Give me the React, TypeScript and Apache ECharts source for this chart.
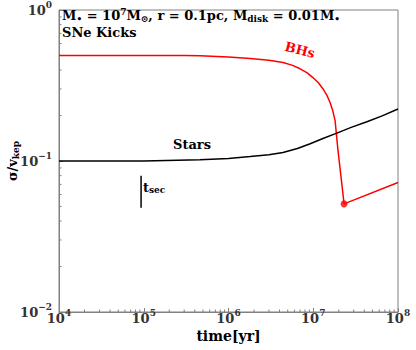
import React, { useEffect, useRef } from "react";
import * as echarts from "echarts";

// BHs velocity dispersion (sigma / v_kep) vs time [yr]
const bhTime = [1e4, 1e5, 3e5, 4.6e5, 1e6, 1.8e6, 3e6, 4.4e6, 5.7e6, 7.0e6, 8.5e6, 9.9e6, 1.15e7, 1.3e7, 1.45e7, 1.58e7, 1.7e7, 1.81e7, 1.96e7, 2.17e7, 2.31e7, 1e8];
const bhSigma = [0.5, 0.5, 0.499, 0.497, 0.489, 0.477, 0.465, 0.449, 0.43, 0.408, 0.383, 0.357, 0.33, 0.301, 0.272, 0.244, 0.215, 0.185, 0.117, 0.071, 0.052, 0.072];

// Stars
const starTime = [1e4, 1e5, 4.6e5, 1e6, 1.8e6, 3e6, 4.4e6, 6.5e6, 9.2e6, 1.3e7, 1.9e7, 2.8e7, 4.3e7, 6.5e7, 1e8];
const starSigma = [0.1, 0.1, 0.1018, 0.104, 0.107, 0.11, 0.114, 0.121, 0.13, 0.141, 0.153, 0.167, 0.182, 0.199, 0.221];

// kick marker
const kickTime = [2.31e7];
const kickSigma = [0.052];

// t_sec marker
const tsecTime = [9.3e4, 9.3e4];
const tsecSigma = [0.049, 0.08];

// axis limits and minor ticks
const xMin = 1e4;
const xMax = 1e8;
const yMin = 0.01;
const yMax = 1;
const xMinorTicks = [
  2e4, 3e4, 4e4, 5e4, 6e4, 7e4, 8e4, 9e4,
  2e5, 3e5, 4e5, 5e5, 6e5, 7e5, 8e5, 9e5,
  2e6, 3e6, 4e6, 5e6, 6e6, 7e6, 8e6, 9e6,
  2e7, 3e7, 4e7, 5e7, 6e7, 7e7, 8e7, 9e7,
];
const yMinorTicks = [0.02, 0.03, 0.04, 0.05, 0.06, 0.07, 0.08, 0.09, 0.2, 0.3, 0.4, 0.5, 0.6, 0.7, 0.8, 0.9];

const FONT = "DejaVu Serif";
const GRAY = "#808080";

const pow10Label = (v: number) => {
  const e = Math.round(Math.log10(v));
  const s = e < 0 ? "\u2212" + Math.abs(e) : String(e);
  return `{b|10}{s|${s}}`;
};

const tickRich = {
  b: { fontFamily: FONT, fontWeight: "bold", fontSize: 13, color: "#333" },
  s: { fontFamily: FONT, fontWeight: "bold", fontSize: 9, color: "#333", padding: [0, 0, 11, 0] },
};

export default function App() {
  const ref = useRef<HTMLDivElement>(null);
  useEffect(() => {
    if (!ref.current) return;
    const chart = echarts.init(ref.current, undefined, { renderer: "svg" });
    const zip = (a: number[], b: number[]) => a.map((v, i) => [v, b[i]]);
    chart.setOption({
      animation: false,
      grid: {
        left: 59, right: 18, top: 10, bottom: 38,
        containLabel: false, outerBoundsMode: "none",
        show: true, borderColor: GRAY, borderWidth: 1, backgroundColor: "transparent",
      },
      xAxis: {
        type: "log",
        logBase: 10,
        min: xMin,
        max: xMax,
        splitLine: { show: false },
        axisLine: { show: true, lineStyle: { color: GRAY, width: 1 } },
        axisTick: { show: true, inside: true, length: 4, lineStyle: { color: GRAY } },
        axisLabel: { formatter: pow10Label, rich: tickRich, margin: -4, showMinLabel: true, showMaxLabel: true, hideOverlap: false },
        name: "time[yr]",
        nameLocation: "middle",
        nameGap: 17,
        nameMoveOverlap: false,
        nameTextStyle: { fontFamily: FONT, fontWeight: "bold", fontSize: 14, color: "#000" },
      },
      yAxis: {
        type: "log",
        logBase: 10,
        min: yMin,
        max: yMax,
        splitLine: { show: false },
        axisLine: { show: true, lineStyle: { color: GRAY, width: 1 } },
        axisTick: { show: true, inside: true, length: 4, lineStyle: { color: GRAY } },
        axisLabel: { formatter: pow10Label, rich: tickRich, margin: 7, showMinLabel: true, showMaxLabel: true, hideOverlap: false },
        name: "{a|\u03c3/v}{s|kep}",
        nameLocation: "middle",
        nameRotate: 90,
        nameGap: 39,
        nameMoveOverlap: false,
        nameTextStyle: {
          rich: {
            a: { fontFamily: FONT, fontWeight: "bold", fontSize: 13, color: "#000" },
            s: { fontFamily: FONT, fontWeight: "bold", fontSize: 9, color: "#000", padding: [7, 0, 0, 0] },
          },
        },
      },
      series: [
        {
          type: "line",
          data: zip(bhTime, bhSigma),
          showSymbol: false,
          lineStyle: { color: "#ff0000", width: 1.5 },
          itemStyle: { color: "#ff0000" },
        },
        {
          type: "line",
          data: zip(starTime, starSigma),
          showSymbol: false,
          lineStyle: { color: "#000000", width: 1.5 },
          itemStyle: { color: "#000000" },
        },
        {
          type: "scatter",
          data: zip(kickTime, kickSigma),
          symbolSize: 7,
          itemStyle: { color: "#ff0000" },
        },
        {
          type: "line",
          data: zip(tsecTime, tsecSigma),
          showSymbol: false,
          lineStyle: { color: "#000000", width: 1.5 },
        },
        {
          type: "custom",
          data: xMinorTicks.map((v) => [v, yMin]),
          encode: { x: 0, y: 1 },
          silent: true,
          clip: false,
          renderItem: (params: any, api: any) => {
            const p = api.coord([api.value(0), yMin]);
            return { type: "line", shape: { x1: p[0], y1: p[1], x2: p[0], y2: p[1] - 2.5 }, style: { stroke: GRAY, lineWidth: 1 } };
          },
        },
        {
          type: "custom",
          data: yMinorTicks.map((v) => [xMin, v]),
          encode: { x: 0, y: 1 },
          silent: true,
          clip: false,
          renderItem: (params: any, api: any) => {
            const p = api.coord([xMin, api.value(1)]);
            return { type: "line", shape: { x1: p[0], y1: p[1], x2: p[0] + 2.5, y2: p[1] }, style: { stroke: GRAY, lineWidth: 1 } };
          },
        },
      ],
      graphic: [
        {
          type: "text",
          left: 62,
          top: 7,
          style: {
            text:
              "{t|M}{u|\u2022}{t| = 10}{p|7}{t|M}{u|\u2299}{t|, r = 0.1pc, M}{u|disk}{t| = 0.01M}{u|\u2022}\n{t|SNe Kicks}",
            rich: {
              t: { fontFamily: FONT, fontWeight: "bold", fontSize: 13, color: "#000", lineHeight: 17 },
              u: { fontFamily: FONT, fontWeight: "bold", fontSize: 9, color: "#000", padding: [6, 0, 0, 0], lineHeight: 17 },
              p: { fontFamily: FONT, fontWeight: "bold", fontSize: 9, color: "#000", padding: [0, 0, 8, 0], lineHeight: 17 },
            },
          },
        },
        {
          type: "text",
          x: 192,
          y: 144.5,
          style: { text: "Stars", fontFamily: FONT, fontWeight: "bold", fontSize: 13, fill: "#000", align: "center", verticalAlign: "middle" },
        },
        {
          type: "text",
          x: 300,
          y: 50,
          rotation: -0.25,
          style: { text: "BHs", fontFamily: FONT, fontWeight: "bold", fontSize: 13, fill: "#ff0000", align: "center", verticalAlign: "middle" },
        },
        {
          type: "text",
          x: 143,
          y: 187,
          style: {
            text: "{t|t}{s|sec}",
            verticalAlign: "middle",
            rich: {
              t: { fontFamily: FONT, fontWeight: "bold", fontSize: 13, color: "#000" },
              s: { fontFamily: FONT, fontWeight: "bold", fontSize: 9, color: "#000", padding: [6, 0, 0, 0] },
            },
          },
        },
      ],
    });
    return () => chart.dispose();
  }, []);
  return <div ref={ref} style={{ position: "absolute", left: 0, top: 0, width: 416, height: 350 }} />;
}
